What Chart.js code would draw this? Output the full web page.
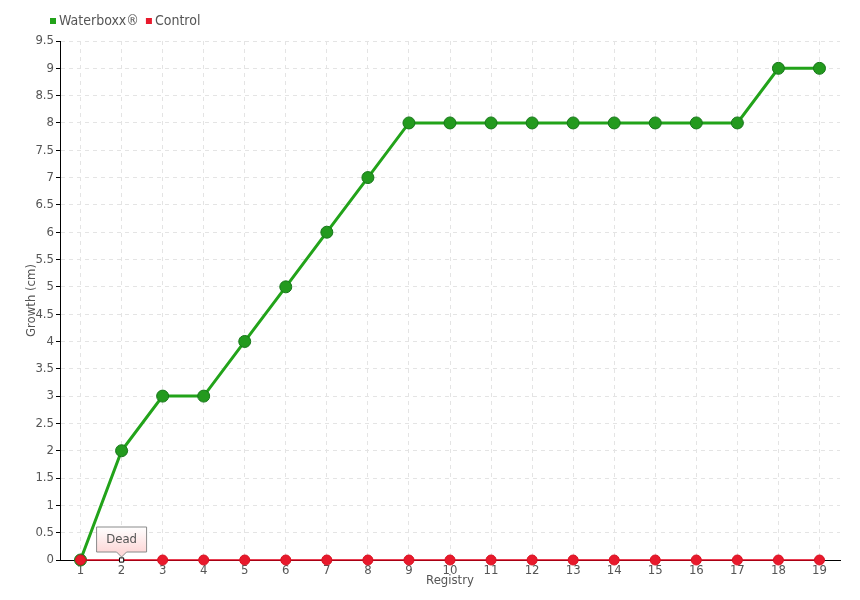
<!DOCTYPE html>
<html>
<head>
<meta charset="utf-8">
<script src="https://cdn.jsdelivr.net/npm/chart.js@4/dist/chart.umd.min.js"></script>
<style>
  html, body { margin: 0; padding: 0; background: #fff; }
  #wrap { width: 860px; height: 600px; }
</style>
</head>
<body>
<div id="wrap"><canvas id="chart" width="860" height="600"></canvas></div>
<script>
const registry = ['1', '2', '3', '4', '5', '6', '7', '8', '9', '10', '11', '12', '13', '14', '15', '16', '17', '18', '19'];
const waterboxx = [0, 2, 3, 3, 4, 5, 6, 7, 8, 8, 8, 8, 8, 8, 8, 8, 8, 9, 9];
const control = [0, 0, 0, 0, 0, 0, 0, 0, 0, 0, 0, 0, 0, 0, 0, 0, 0, 0, 0];
const deadIndex = 1;
const deadLabel = 'Dead';

const fontFamily = "'DejaVu Sans Condensed', 'Liberation Sans Narrow', sans-serif";
const textColor = '#555';

const controlStyles = control.map((v, i) => (i === deadIndex ? 'rect' : 'circle'));
const controlFill = control.map((v, i) => (i === deadIndex ? '#fff' : '#e8192c'));
const controlBorder = control.map((v, i) => (i === deadIndex ? '#000' : '#d81020'));
const controlRadius = control.map((v, i) => (i === deadIndex ? 3 : 5));

// legend drawn by hand so it can sit right where the original one is
const topLegend = {
  id: 'topLegend',
  afterDraw(chart) {
    const { ctx } = chart;
    let x = 50;
    const y = 21;
    ctx.save();
    ctx.font = `14px ${fontFamily}`;
    ctx.textBaseline = 'middle';
    chart.data.datasets.forEach((ds) => {
      ctx.fillStyle = ds.backgroundColor;
      ctx.fillRect(x, y - 3, 6, 6);
      x += 9;
      ctx.fillStyle = textColor;
      ctx.fillText(ds.label, x, y);
      x += ctx.measureText(ds.label).width + 7;
    });
    ctx.restore();
  },
};

// little callout box above the dead plant
const deadCallout = {
  id: 'deadCallout',
  afterDatasetsDraw(chart) {
    const { ctx } = chart;
    const x = chart.scales.x.getPixelForValue(deadIndex);
    const y = chart.scales.y.getPixelForValue(control[deadIndex]);
    const w = 50;
    const h = 25;
    const left = x - 25;
    const top = y - 33;
    const bottom = top + h;
    ctx.save();
    const grad = ctx.createLinearGradient(0, top, 0, bottom);
    grad.addColorStop(0, '#ffffff');
    grad.addColorStop(1, '#fdd8d8');
    ctx.beginPath();
    ctx.moveTo(left, top);
    ctx.lineTo(left + w, top);
    ctx.lineTo(left + w, bottom);
    ctx.lineTo(x + 5, bottom);
    ctx.lineTo(x, bottom + 5);
    ctx.lineTo(x - 5, bottom);
    ctx.lineTo(left, bottom);
    ctx.closePath();
    ctx.fillStyle = grad;
    ctx.fill();
    ctx.strokeStyle = '#8a8a8a';
    ctx.lineWidth = 1;
    ctx.stroke();
    ctx.fillStyle = textColor;
    ctx.font = `13px ${fontFamily}`;
    ctx.textAlign = 'center';
    ctx.textBaseline = 'middle';
    ctx.fillText(deadLabel, x, top + h / 2);
    ctx.restore();
  },
};

Chart.defaults.font.family = fontFamily;
Chart.defaults.font.size = 13;
Chart.defaults.color = textColor;

const chart = new Chart(document.getElementById('chart'), {
  type: 'line',
  data: {
    labels: registry,
    datasets: [
      {
        label: 'Waterboxx®',
        data: waterboxx,
        borderColor: '#22a31a',
        backgroundColor: '#22a31a',
        borderWidth: 3,
        pointRadius: 6,
        pointBackgroundColor: '#239a1e',
        pointBorderColor: '#17771a',
        pointBorderWidth: 1,
        tension: 0,
        clip: false,
        order: 2,
      },
      {
        label: 'Control',
        data: control,
        borderColor: '#e0001a',
        backgroundColor: '#e8192c',
        borderWidth: 1.5,
        pointStyle: controlStyles,
        pointRadius: controlRadius,
        pointBackgroundColor: controlFill,
        pointBorderColor: controlBorder,
        pointBorderWidth: 1,
        tension: 0,
        clip: false,
        order: 1,
      },
    ],
  },
  options: {
    responsive: false,
    animation: false,
    layout: {
      padding: { left: 0, right: 20, top: 41, bottom: 12 },
    },
    plugins: {
      legend: { display: false },
      tooltip: { enabled: false },
    },
    scales: {
      x: {
        offset: true,
        afterFit: (s) => { s.height = 28; },
        grid: {
          offset: false,
          color: '#e4e4e4',
          drawTicks: false,
        },
        border: { color: '#000', width: 1, dash: [4, 4] },
        ticks: { padding: 3, autoSkip: false, maxRotation: 0 },
        title: { display: true, text: 'Registry', padding: 0 },
      },
      y: {
        min: 0,
        max: 9.5,
        afterFit: (s) => { s.width = 60; },
        grid: {
          color: '#e4e4e4',
          tickColor: '#000',
          tickLength: 4,
        },
        border: { color: '#000', width: 1, dash: [4, 4] },
        ticks: {
          stepSize: 0.5,
          padding: 2,
          callback: (v) => String(v),
        },
        title: { display: true, text: 'Growth (cm)', padding: { top: 24, bottom: 0 } },
      },
    },
  },
  plugins: [deadCallout, topLegend],
});
</script>
</body>
</html>
